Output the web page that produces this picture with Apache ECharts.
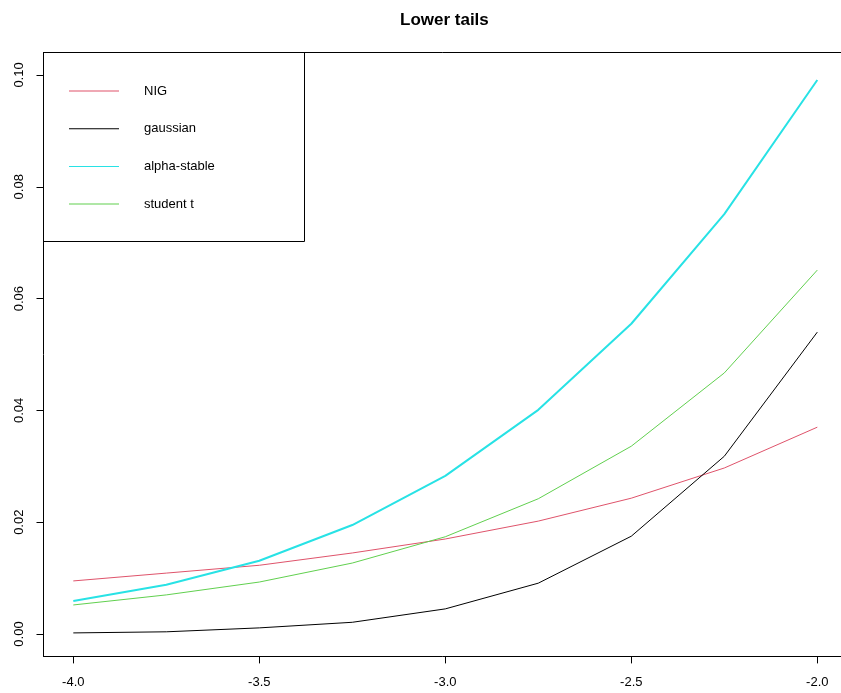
<!DOCTYPE html>
<html>
<head>
<meta charset="utf-8">
<script src="https://cdn.jsdelivr.net/npm/echarts@6/dist/echarts.min.js"></script>
<style>html,body{margin:0;padding:0;background:#fff;}#c{width:841px;height:693px;}</style>
</head>
<body>
<div id="c"></div>
<script>
const xs = [-4, -3.75, -3.5, -3.25, -3, -2.75, -2.5, -2.25, -2];
const nig = [0.0095, 0.0109, 0.0123, 0.0145, 0.0170, 0.0202, 0.0243, 0.0297, 0.0370];
const gaussian = [0.0002, 0.0004, 0.0011, 0.0021, 0.0045, 0.0091, 0.0175, 0.0318, 0.0540];
const alphaStable = [0.0059, 0.0088, 0.0131, 0.0195, 0.0283, 0.0401, 0.0555, 0.0751, 0.0991];
const studentT = [0.0052, 0.0070, 0.0093, 0.0127, 0.0174, 0.0242, 0.0336, 0.0467, 0.0651];
const xTicks = [-4, -3.5, -3, -2.5, -2];
const yTicks = [0, 0.02, 0.04, 0.06, 0.08, 0.10];
const names = ['NIG', 'gaussian', 'alpha-stable', 'student t'];
const colors = ['#DF536B', '#000000', '#28E2E5', '#61D04F'];

const pair = arr => xs.map((x, i) => [x, arr[i]]);
const font = 'Liberation Sans, Arial, sans-serif';
const chart = echarts.init(document.getElementById('c'), null, {renderer: 'canvas'});
chart.setOption({
  animation: false,
  backgroundColor: '#fff',
  title: {
    text: 'Lower tails', left: 395, top: 7,
    textStyle: {fontFamily: font, fontSize: 17, fontWeight: 'bold', color: '#000'}
  },
  grid: {left: 43.5, top: 52.6, right: 0, bottom: 36.6, show: false, outerBoundsMode: 'none'},
  legend: {
    orient: 'vertical', left: 43, top: 53,
    padding: [31, 20, 30, 26],
    itemWidth: 50, itemHeight: 1, itemGap: 23.7,
    icon: 'rect',
    data: names,
    textStyle: {fontFamily: font, fontSize: 13, color: '#000', lineHeight: 14, padding: [0, 0, 0, 20]},
    selectedMode: false
  },
  graphic: [{
    type: 'rect', z: 100,
    shape: {x: 43.5, y: 52.5, width: 261, height: 189},
    style: {fill: 'none', stroke: '#000', lineWidth: 1}
  }],
  xAxis: [{
    type: 'value', min: -4.0801, max: -1.9363,
    axisLine: {show: true, onZero: false, lineStyle: {color: '#000'}},
    axisTick: {show: true, length: 7, inside: false, customValues: xTicks, lineStyle: {color: '#000'}},
    axisLabel: {customValues: xTicks, margin: 20, fontFamily: font, fontSize: 13, color: '#000', formatter: v => v.toFixed(1)},
    splitLine: {show: false}
  }, {
    type: 'value', position: 'top', min: -4.0801, max: -1.9363,
    axisLine: {show: true, onZero: false, lineStyle: {color: '#000'}},
    axisTick: {show: false}, axisLabel: {show: false}, splitLine: {show: false}
  }],
  yAxis: {
    type: 'value', min: -0.004, max: 0.104,
    axisLine: {show: true, onZero: false, lineStyle: {color: '#000'}},
    axisTick: {show: true, length: 7, inside: false, customValues: yTicks, lineStyle: {color: '#000'}},
    axisLabel: {customValues: yTicks, rotate: 90, margin: 18, fontFamily: font, fontSize: 13, color: '#000', formatter: v => v.toFixed(2)},
    splitLine: {show: false}
  },
  series: [
    {name: names[0], type: 'line', data: pair(nig), color: colors[0], showSymbol: false, symbol: 'none', lineStyle: {width: 1, color: colors[0]}},
    {name: names[1], type: 'line', data: pair(gaussian), color: colors[1], showSymbol: false, symbol: 'none', lineStyle: {width: 1, color: colors[1]}},
    {name: names[2], type: 'line', data: pair(alphaStable), color: colors[2], showSymbol: false, symbol: 'none', lineStyle: {width: 2, color: colors[2]}},
    {name: names[3], type: 'line', data: pair(studentT), color: colors[3], showSymbol: false, symbol: 'none', lineStyle: {width: 1, color: colors[3]}}
  ]
});
</script>
</body>
</html>
